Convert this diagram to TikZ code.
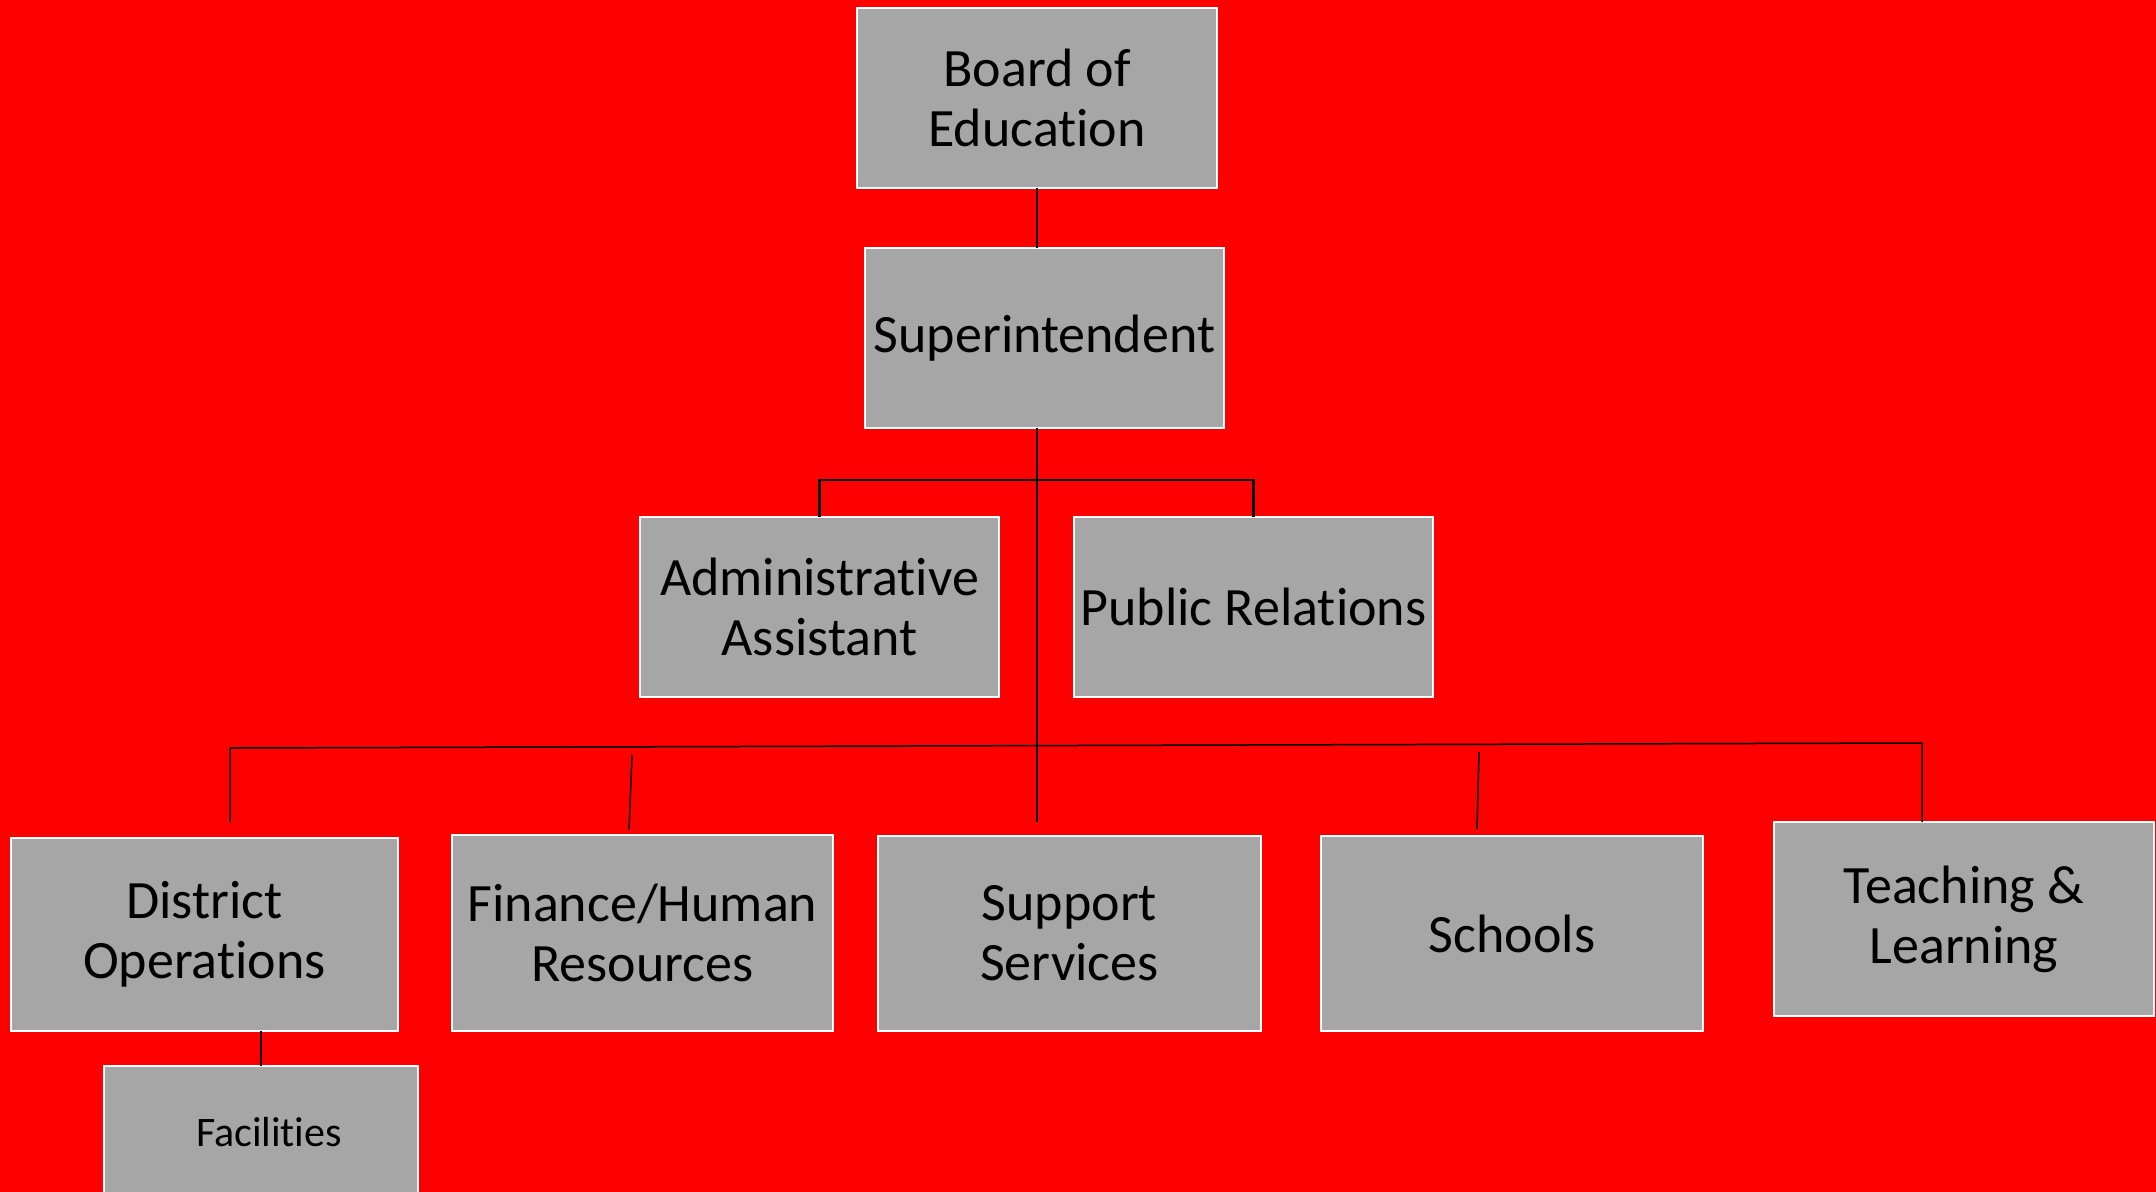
\documentclass[tikz,border=0pt]{standalone}
\usepackage{fontspec}
\setmainfont{Carlito}[Ligatures=NoCommon]
\definecolor{bgred}{HTML}{FF0000}
\definecolor{boxgray}{HTML}{A6A6A6}
\begin{document}
\begin{tikzpicture}[x=0.5pt,y=-0.5pt,
  orgbox/.style={draw=white, line width=1.2pt, fill=boxgray, inner sep=0pt, outer sep=0pt,
    align=center, text=black, font=\fontsize{27}{30}\selectfont},
  smallbox/.style={orgbox, font=\fontsize{21}{24}\selectfont},
  thicklink/.style={draw=black, line width=1.3pt},
  thinlink/.style={draw=black, line width=0.75pt}]
\useasboundingbox (0,0) rectangle (2156,1192);
\clip (0,0) rectangle (2156,1192);
\fill[bgred] (0,0) rectangle (2156,1192);

% boxes
\node[orgbox, minimum width=180pt, minimum height=90pt] (board) at (1037,98) {Board of\\Education};
\node[orgbox, minimum width=179.5pt, minimum height=90pt] (super) at (1044.5,338) {Superintendent};
\node[orgbox, minimum width=179.5pt, minimum height=90pt] (admin) at (819.5,607) {Administrative\\Assistant};
\node[orgbox, minimum width=179.5pt, minimum height=90pt] (pr) at (1253.5,607) {Public Relations};
\node[orgbox, minimum width=193.5pt, minimum height=96.5pt] (district) at (204.5,934.5) {District\\Operations};
\node[orgbox, minimum width=190.5pt, minimum height=98pt] (finance) at (642.5,933) {Finance/Human\\Resources};
\node[orgbox, minimum width=191.5pt, minimum height=97.5pt] (support) at (1069.5,933.5) {Support\\Services};
\node[orgbox, minimum width=191pt, minimum height=97.5pt] (schools) at (1512,933.5) {Schools};
\node[orgbox, minimum width=190pt, minimum height=97pt] (teaching) at (1964,919) {Teaching \&\\Learning};
\node[smallbox, minimum width=157pt, minimum height=66pt] (facilities) at (261,1132) {\hspace*{8pt}Facilities};

% free line ends
\coordinate (barmid) at (1037,480);
\coordinate (trunkend) at (1037,822);
\coordinate (lowL) at (230,822);
\coordinate (lowLtop) at (230,748);
\coordinate (lowRtop) at (1922,743);
\coordinate (finA) at (632,755);
\coordinate (finB) at (629,830);
\coordinate (schA) at (1479,752);
\coordinate (schB) at (1477,829);

% connectors
\draw[thicklink] (board.south) -- (board.south |- super.north);
\draw[thicklink] (board.south |- super.south) -- (trunkend);
\draw[thicklink] (admin.north) -- (admin.north |- barmid) -- (pr.north |- barmid) -- (pr.north);
\draw[thinlink] (lowL) -- (lowLtop) -- (lowRtop) -- (lowRtop |- teaching.north);
\draw[thinlink] (finA) -- (finB);
\draw[thinlink] (schA) -- (schB);
\draw[thinlink] (district.south -| facilities.north) -- (facilities.north);
\end{tikzpicture}
\end{document}
